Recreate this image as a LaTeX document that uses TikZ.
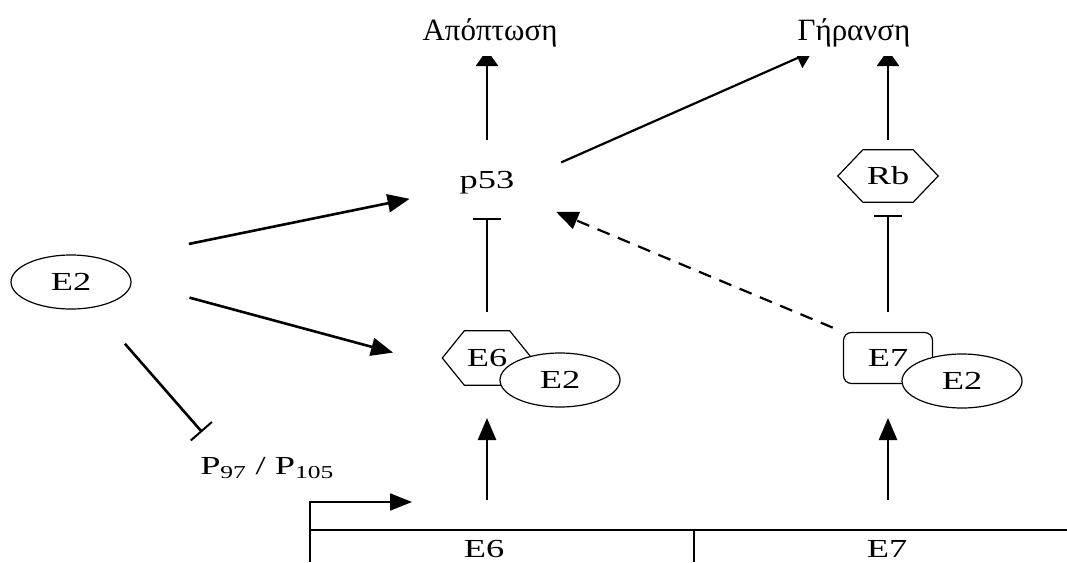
\documentclass[tikz,border=0pt]{standalone}
\usepackage{fontspec}
\setmainfont{Liberation Serif}
\newfontfamily\labfont{Liberation Serif}[FakeStretch=1.4]
\usetikzlibrary{arrows.meta,shapes.geometric}

\begin{document}
\begin{tikzpicture}[x=1pt,y=-1pt,
  lab/.style={font=\labfont\fontsize{26}{30}\selectfont,inner sep=0pt},
  grk/.style={font=\fontsize{31}{35}\selectfont,inner sep=0pt},
  oval/.style={lab,draw,ellipse,line width=1.2pt,fill=white,minimum width=120pt,minimum height=54pt},
  act/.style={line width=2.6pt,-{Triangle[length=22pt,width=18pt]}},
  cut/.style={line width=2.6pt,-{Triangle[length=16pt,width=22pt]}},
  inh/.style={line width=2.6pt,-{Bar[width=28pt,line width=2pt]}},
  gene/.style={line width=2pt}]
\useasboundingbox (0,0) rectangle (1067,562);
\node[grk] (apo) at (490,33) {Απόπτωση};
\node[grk] (ger) at (854,33) {Γήρανση};
\node[lab] (p53) at (487,183) {p53};
\node[lab,minimum width=100pt,minimum height=52pt] (rb) at (888,176) {Rb};
\node[lab,minimum width=89pt,minimum height=54pt] (e6) at (487,358) {E6};
\node[lab,draw,rounded corners=8pt,line width=1.2pt,minimum width=89pt,minimum height=51pt] (e7) at (888,358) {E7};
\foreach \h/\c in {rb/25,e6/22}
  \draw[line width=1.2pt] (\h.west) -- ([xshift=\c]\h.north west) -- ([xshift=-\c]\h.north east)
    -- (\h.east) -- ([xshift=-\c]\h.south east) -- ([xshift=\c]\h.south west) -- cycle;
\foreach \x/\y/\n in {71/282/e2l,560/380/e2a,962/381/e2b}
  \node[oval] (\n) at (\x,\y) {E2};
\node[lab] (pv) at (267,468) {P\textsubscript{97} / P\textsubscript{105}};
\node[lab] (g6) at (484,549) {E6};
\node[lab] (g7) at (887,549) {E7};
\coordinate (pin) at (202,432);
\coordinate (tss) at (412,502);

\draw[gene] (310,562) -- (310,530) -- (1067,530) (694,530) -- (694,562);
\draw[gene,-{Triangle[length=22pt,width=17pt]}] (310,530) -- (310,502) -- (tss);

\draw[act,shorten <=82pt,shorten >=79pt] (e2l.30) -- (p53.center);
\draw[act,shorten <=60pt,shorten >=51pt] (e2l.east) -- (e6.190);
\draw[inh,shorten <=82pt] (e2l.center) -- (pin);
\draw[act,shorten <=49pt,shorten >=60pt] (e6.center |- g6.center) -- (e6.center);
\draw[act,shorten <=49pt,shorten >=60pt] (e7.center |- g7.center) -- (e7.center);
\draw[inh,shorten <=46pt,shorten >=35pt] (e6.center) -- (p53.center);
\draw[inh,shorten <=46pt,shorten >=39pt] (e7.center) -- (rb.center);
\draw[act,line width=2.2pt,dash pattern=on 13pt off 9pt,shorten <=11pt,shorten >=75pt] (e7.north west) -- (p53.center);
\begin{scope}
\clip (0,56) rectangle (1067,562);
\draw[cut,shorten <=43pt,shorten >=17pt] (p53.center) -- (p53.center |- apo.center);
\draw[cut,shorten <=36pt,shorten >=17pt] (rb.center) -- (rb.center |- ger.center);
\draw[cut,line width=2.2pt,shorten <=51pt] (p53.east) -- ([xshift=15pt,yshift=-4pt]ger.south west);
\end{scope}
\end{tikzpicture}
\end{document}
